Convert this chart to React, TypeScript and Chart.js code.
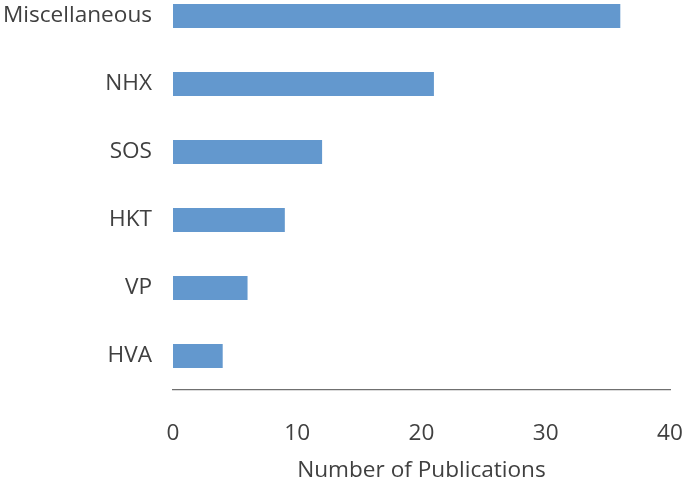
import React, { useEffect, useRef } from "react";
import { Chart, registerables } from "chart.js";

Chart.register(...registerables);

const categories = ["Miscellaneous", "NHX", "SOS", "HKT", "VP", "HVA"];
const publications = [36, 21, 12, 9, 6, 4];
const xTicks = [0, 10, 20, 30, 40];
const xTitle = "Number of Publications";

const FONT = "'Open Sans', sans-serif";
const TEXT = "#404040";
const BAR = "rgb(99,152,206)";
const SIZE = 22.6;

export default function App() {
  const ref = useRef<HTMLCanvasElement | null>(null);

  useEffect(() => {
    if (!ref.current) return;
    const chart = new Chart(ref.current, {
      type: "bar",
      data: {
        labels: categories,
        datasets: [
          {
            data: publications,
            backgroundColor: BAR,
            borderWidth: 0,
            barPercentage: 0.353,
            categoryPercentage: 1,
          },
        ],
      },
      options: {
        indexAxis: "y",
        responsive: false,
        animation: false,
        layout: { padding: { top: 0, left: 0, right: 15, bottom: 0 } },
        plugins: { legend: { display: false }, tooltip: { enabled: false } },
        scales: {
          x: {
            min: xTicks[0],
            max: xTicks[xTicks.length - 1],
            afterBuildTicks: (s: any) => {
              s.ticks = xTicks.map((v) => ({ value: v }));
            },
            grid: { display: false, drawTicks: false },
            border: { display: true, color: "#707070", width: 1.3 },
            ticks: {
              padding: 30,
              color: TEXT,
              font: { family: FONT, size: SIZE },
              maxRotation: 0,
            },
            title: {
              display: true,
              text: xTitle,
              color: TEXT,
              font: { family: FONT, size: SIZE },
              padding: { top: 0, bottom: 8 },
            },
            afterFit: (s: any) => {
              s.height = 102;
              s.paddingLeft = 0;
              s.paddingRight = 0;
            },
          },
          y: {
            grid: { display: false, drawTicks: false },
            border: { display: false },
            ticks: {
              padding: 21,
              color: TEXT,
              font: { family: FONT, size: SIZE },
            },
            afterFit: (s: any) => {
              s.width = 173;
              s.paddingTop = 0;
              s.paddingBottom = 0;
            },
          },
        },
      },
    });
    return () => chart.destroy();
  }, []);

  return (
    <div
      style={{
        position: "fixed",
        left: 0,
        top: 0,
        width: 685,
        height: 492,
        overflow: "hidden",
        background: "#ffffff",
      }}
    >
      <canvas
        ref={ref}
        width={685}
        height={510}
        style={{ position: "absolute", left: 0, top: -18, display: "block" }}
      />
    </div>
  );
}
